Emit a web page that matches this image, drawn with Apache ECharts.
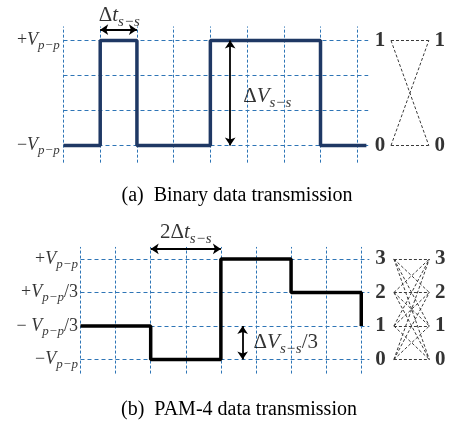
<!DOCTYPE html>
<html><head><meta charset="utf-8">
<script src="https://cdn.jsdelivr.net/npm/echarts@6/dist/echarts.min.js"></script>
<style>html,body{margin:0;padding:0;background:#fff}#c{width:449px;height:421px}</style>
</head><body><div id="c"></div><script>
// ---------- data ----------
const binaryBits = [0, 1, 0, 0, 1, 1, 1, 0, 0];   // one bit per symbol slot
const binaryEnd = 8.25;                              // where the drawn trace stops
const binaryLevelLabels = ['0', '1'];
const binaryAxisLabels = ['{o|−}{m|V}{s|p−p}', '{o|+}{m|V}{s|p−p}'];
const pamSymbols = [1, 1, 0, 0, 3, 3, 2, 2, 1];     // one PAM-4 level per slot
const pamEnd = 8;
const pamLevelLabels = ['0', '1', '2', '3'];
const pamAxisLabels = ['{o|−}{m|V}{s|p−p}', '{o|− }{m|V}{s|p−p}{o|/3}', '{o|+}{m|V}{s|p−p}{o|/3}', '{o|+}{m|V}{s|p−p}'];
const captionA = '(a)  Binary data transmission';
const captionB = '(b)  PAM-4 data transmission';
const slots = 8;

// ---------- helpers ----------
const SER = 'Liberation Serif';
const GRID = '#2e75b6';
function rich(big) {
  const f = big ? 21 : 18, s = big ? 15 : 13, lh = big ? 28 : 24;
  return {
    o: {fontFamily: SER, fontSize: f, color: '#000', lineHeight: lh},
    m: {fontFamily: SER, fontStyle: 'italic', fontSize: f, color: '#000', lineHeight: lh},
    s: {fontFamily: SER, fontStyle: 'italic', fontSize: s, color: '#000', lineHeight: lh, verticalAlign: 'bottom'}
  };
}
function stepPoints(sym, end, scale) {
  const pts = sym.map((v, i) => [i, v * scale]);
  if (end > sym.length - 1) pts.push([end, sym[sym.length - 1] * scale]);
  return pts;
}
const hStyle = {color: GRID, width: 1, type: [4, 3], opacity: 1};
const vStyle = {color: GRID, width: 1, type: [3, 2], opacity: 1};
function gridLines(nLevels, scale, xEnd, yLo, yHi) {
  const out = [];
  for (let l = 0; l < nLevels; l++) out.push({coords: [[0, l * scale], [xEnd, l * scale]], lineStyle: hStyle});
  for (let i = 0; i <= slots; i++) out.push({coords: [[i, yLo], [i, yHi]], lineStyle: vStyle});
  return out;
}
const eyeStyle = {color: '#3a3a3a', width: 1, type: [3, 2], opacity: 1};
function eyeLines(nLevels, scale, x0, x1) {
  const out = [];
  for (let a = 0; a < nLevels; a++) for (let b = 0; b < nLevels; b++)
    out.push({coords: [[x0, a * scale], [x1, b * scale]], lineStyle: eyeStyle});
  return out;
}
function labelPts(levels, scale, xs) {
  const out = [];
  levels.forEach((t, i) => xs.forEach(x => out.push({value: [x, i * scale], t: t})));
  return out;
}
const levelLabel = t => ({position: 'inside', formatter: t, fontFamily: SER, fontWeight: 'bold', fontSize: 21, color: '#000'});

const chart = echarts.init(document.getElementById('c'), null, {renderer: 'canvas'});
const option = {
  animation: false,
  title: [
    {text: captionA, left: 232, top: 181, textAlign: 'center', textStyle: {fontFamily: SER, fontSize: 20, fontWeight: 'normal', color: '#000'}},
    {text: captionB, left: 234, top: 395, textAlign: 'center', textStyle: {fontFamily: SER, fontSize: 20, fontWeight: 'normal', color: '#000'}}
  ],
  grid: [
    {left: 63.5, top: 0, width: 388.5, height: 166.5},
    {left: 80.5, top: 218.8, width: 372.75, height: 160.8}
  ],
  xAxis: [
    {gridIndex: 0, type: 'value', min: 0, max: 10.5, show: false},
    {gridIndex: 1, type: 'value', min: 0, max: 10.5, show: false}
  ],
  yAxis: [
    {gridIndex: 0, type: 'value', min: -0.6, max: 4.1571, show: false},
    {gridIndex: 1, type: 'value', min: -0.6, max: 4.2, show: false}
  ],
  series: [
    // ---- panel (a) ----
    {type: 'lines', coordinateSystem: 'cartesian2d', xAxisIndex: 0, yAxisIndex: 0, z: 1, clip: false,
     lineStyle: hStyle, symbol: 'none', data: gridLines(4, 1, 8.3, -0.49, 3.4)},
    {type: 'line', xAxisIndex: 0, yAxisIndex: 0, step: 'end', z: 3, showSymbol: false, symbol: 'none',
     lineStyle: {color: '#1f3864', width: 3.5}, data: stepPoints(binaryBits, binaryEnd, 3)},
    {type: 'lines', coordinateSystem: 'cartesian2d', xAxisIndex: 0, yAxisIndex: 0, z: 2, clip: false,
     lineStyle: eyeStyle, symbol: 'none', data: eyeLines(2, 3, 8.92, 9.95)},
    {type: 'lines', coordinateSystem: 'cartesian2d', xAxisIndex: 0, yAxisIndex: 0, z: 4, clip: false,
     lineStyle: {color: '#000', width: 1.8, opacity: 1}, symbol: ['arrow', 'arrow'], symbolSize: 8,
     data: [{coords: [[1, 3.31], [2, 3.31]]}, {coords: [[4.54, 0], [4.54, 3]]}]},
    {type: 'scatter', xAxisIndex: 0, yAxisIndex: 0, symbolSize: 0, z: 5, clip: false,
     data: [
       ...binaryAxisLabels.map((t, i) => ({value: [-0.1, i * 3], label: {position: 'left', distance: 0, formatter: t, rich: rich(false)}})),
       ...labelPts(binaryLevelLabels, 3, [8.62, 10.25]).map(d => ({value: d.value, label: levelLabel(d.t)})),
       {value: [1.52, 3.72], label: {position: 'inside', formatter: '{o|Δ}{m|t}{s|s−s}', rich: rich(true)}},
       {value: [5.55, 1.4], label: {position: 'inside', formatter: '{o|Δ}{m|V}{s|s−s}', rich: rich(true)}}
     ],
     label: {show: true}},
    // ---- panel (b) ----
    {type: 'lines', coordinateSystem: 'cartesian2d', xAxisIndex: 1, yAxisIndex: 1, z: 1, clip: false,
     lineStyle: hStyle, symbol: 'none', data: gridLines(4, 1, 8.23, -0.42, 3.36)},
    {type: 'line', xAxisIndex: 1, yAxisIndex: 1, step: 'end', z: 3, showSymbol: false, symbol: 'none',
     lineStyle: {color: '#000', width: 3.5}, data: stepPoints(pamSymbols, pamEnd, 1)},
    {type: 'lines', coordinateSystem: 'cartesian2d', xAxisIndex: 1, yAxisIndex: 1, z: 2, clip: false,
     lineStyle: eyeStyle, symbol: 'none', data: eyeLines(4, 1, 8.93, 9.94)},
    {type: 'lines', coordinateSystem: 'cartesian2d', xAxisIndex: 1, yAxisIndex: 1, z: 4, clip: false,
     lineStyle: {color: '#000', width: 1.8, opacity: 1}, symbol: ['arrow', 'arrow'], symbolSize: 8,
     data: [{coords: [[2, 3.3], [4, 3.3]]}, {coords: [[4.62, 0], [4.62, 1]]}]},
    {type: 'scatter', xAxisIndex: 1, yAxisIndex: 1, symbolSize: 0, z: 5, clip: false,
     data: [
       ...pamAxisLabels.map((t, i) => ({value: [-0.07, i], label: {position: 'left', distance: 0, formatter: t, rich: rich(false)}})),
       ...labelPts(pamLevelLabels, 1, [8.55, 10.25]).map(d => ({value: d.value, label: levelLabel(d.t)})),
       {value: [3.0, 3.8], label: {position: 'inside', formatter: '{o|2Δ}{m|t}{s|s−s}', rich: rich(true)}},
       {value: [5.85, 0.51], label: {position: 'inside', formatter: '{o|Δ}{m|V}{s|s−s}{o|/3}', rich: rich(true)}}
     ],
     label: {show: true}}
  ]
};
chart.setOption(option);
</script></body></html>
